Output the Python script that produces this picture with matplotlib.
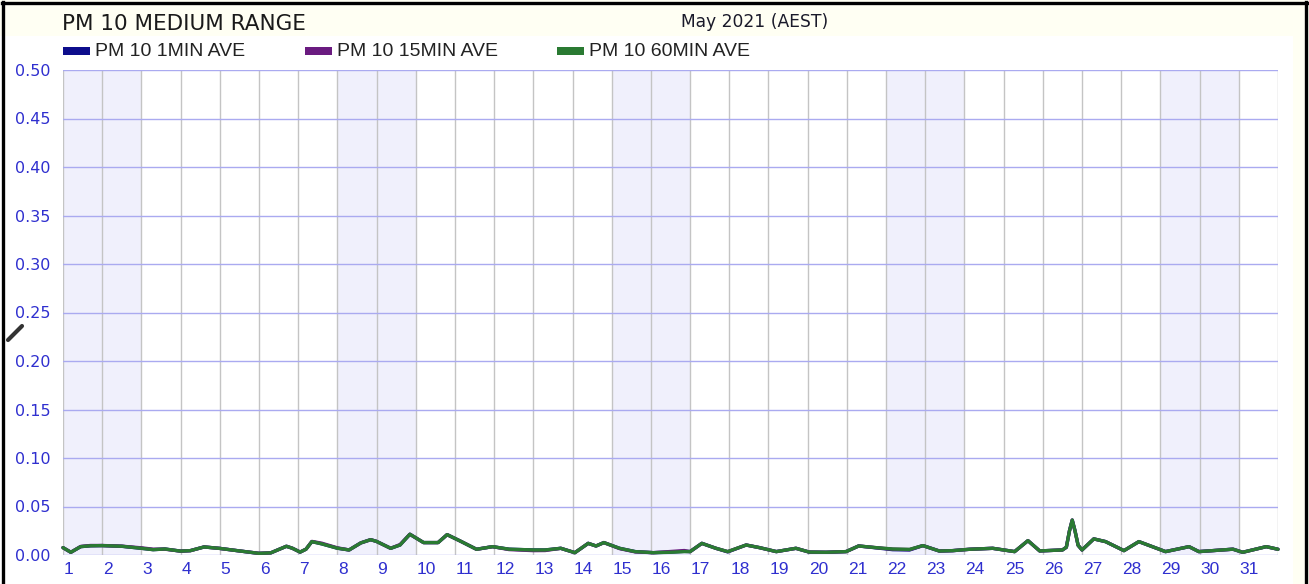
#!/usr/bin/env python3
"""PM 10 medium range - May 2021 monthly trend"""

import matplotlib
matplotlib.use("Agg")
import matplotlib.pyplot as plt
from matplotlib.patches import Rectangle
from matplotlib.lines import Line2D
import matplotlib.transforms as mtransforms

W, H = 1309, 584

# day position (1.0 = start of 1 May, 32.0 = end of 31 May)
days = [1.0, 1.2, 1.45, 1.7, 2.0, 2.5, 3.0, 3.3, 3.6, 4.0, 4.25, 4.6, 5.0, 5.5,
        6.0, 6.3, 6.7, 6.85, 7.05, 7.2, 7.35, 7.6, 8.0, 8.3, 8.6, 8.85, 9.0,
        9.36, 9.6, 9.85, 10.2, 10.57, 10.8, 11.13, 11.55, 11.96, 12.38, 13.0,
        13.3, 13.7, 14.06, 14.4, 14.6, 14.8, 15.2, 15.6, 16.06, 16.5, 16.85,
        17.0, 17.3, 17.66, 17.96, 18.43, 18.77, 19.2, 19.7, 20.04, 20.47,
        20.98, 21.3, 21.74, 22.17, 22.6, 22.94, 23.36, 23.7, 24.13, 24.72,
        25.28, 25.62, 25.92, 26.5, 26.6, 26.68, 26.75, 26.82, 26.9, 27.0,
        27.3, 27.6, 28.07, 28.45, 29.13, 29.73, 29.98, 30.68, 30.85, 31.1,
        31.7, 32.0]

pm10_60min = [0.0076, 0.0028, 0.0086, 0.0095, 0.0097, 0.0090, 0.0069, 0.0055,
              0.0062, 0.0040, 0.0045, 0.0083, 0.0068, 0.0042, 0.0017, 0.0022,
              0.0090, 0.0070, 0.0030, 0.0060, 0.0138, 0.0115, 0.0070, 0.0052,
              0.0125, 0.0158, 0.0140, 0.0069, 0.0103, 0.0214, 0.0128, 0.0128,
              0.0210, 0.0145, 0.0059, 0.0086, 0.0060, 0.0052, 0.0052, 0.0069,
              0.0024, 0.0120, 0.0093, 0.0128, 0.0069, 0.0035, 0.0024, 0.0028,
              0.0035, 0.0035, 0.0120, 0.0069, 0.0035, 0.0103, 0.0076, 0.0035,
              0.0069, 0.0030, 0.0028, 0.0035, 0.0093, 0.0076, 0.0062, 0.0058,
              0.0097, 0.0041, 0.0045, 0.0059, 0.0069, 0.0035, 0.0148, 0.0042,
              0.0052, 0.0080, 0.0250, 0.0360, 0.0250, 0.0100, 0.0052, 0.0166,
              0.0138, 0.0045, 0.0138, 0.0035, 0.0086, 0.0035, 0.0055, 0.0060,
              0.0028, 0.0086, 0.0059]

pm10_15min = [0.0076, 0.0028, 0.0088, 0.0098, 0.0098, 0.0091, 0.0074, 0.0060,
              0.0060, 0.0040, 0.0045, 0.0083, 0.0068, 0.0042, 0.0017, 0.0022,
              0.0090, 0.0070, 0.0030, 0.0060, 0.0140, 0.0122, 0.0074, 0.0052,
              0.0125, 0.0158, 0.0140, 0.0069, 0.0108, 0.0214, 0.0128, 0.0128,
              0.0210, 0.0145, 0.0059, 0.0086, 0.0056, 0.0045, 0.0046, 0.0069,
              0.0024, 0.0120, 0.0093, 0.0128, 0.0066, 0.0032, 0.0024, 0.0036,
              0.0046, 0.0035, 0.0120, 0.0069, 0.0035, 0.0103, 0.0076, 0.0035,
              0.0069, 0.0030, 0.0028, 0.0035, 0.0093, 0.0076, 0.0060, 0.0056,
              0.0097, 0.0041, 0.0045, 0.0059, 0.0069, 0.0035, 0.0148, 0.0042,
              0.0052, 0.0080, 0.0250, 0.0360, 0.0250, 0.0100, 0.0052, 0.0166,
              0.0138, 0.0045, 0.0138, 0.0035, 0.0086, 0.0035, 0.0055, 0.0060,
              0.0028, 0.0086, 0.0059]

pm10_1min = [0.0076, 0.0028, 0.0086, 0.0095, 0.0097, 0.0090, 0.0069, 0.0055,
             0.0062, 0.0040, 0.0045, 0.0083, 0.0068, 0.0042, 0.0017, 0.0022,
             0.0090, 0.0070, 0.0030, 0.0060, 0.0138, 0.0115, 0.0070, 0.0052,
             0.0125, 0.0158, 0.0140, 0.0069, 0.0103, 0.0214, 0.0128, 0.0128,
             0.0210, 0.0145, 0.0059, 0.0086, 0.0060, 0.0052, 0.0052, 0.0069,
             0.0024, 0.0120, 0.0093, 0.0128, 0.0069, 0.0035, 0.0024, 0.0030,
             0.0038, 0.0035, 0.0120, 0.0069, 0.0032, 0.0103, 0.0076, 0.0035,
             0.0069, 0.0030, 0.0028, 0.0035, 0.0093, 0.0074, 0.0055, 0.0052,
             0.0097, 0.0041, 0.0045, 0.0059, 0.0069, 0.0035, 0.0148, 0.0042,
             0.0052, 0.0080, 0.0250, 0.0360, 0.0250, 0.0100, 0.0052, 0.0166,
             0.0138, 0.0045, 0.0138, 0.0035, 0.0086, 0.0035, 0.0055, 0.0060,
             0.0028, 0.0086, 0.0059]

weekend_days = [1, 2, 8, 9, 15, 16, 22, 23, 29, 30]
day_labels = [str(d) for d in range(1, 32)]
y_ticks = [0.00, 0.05, 0.10, 0.15, 0.20, 0.25, 0.30, 0.35, 0.40, 0.45, 0.50]

series = [
    ('PM 10 1MIN AVE', pm10_1min, '#0d0d8c'),
    ('PM 10 15MIN AVE', pm10_15min, '#6a1b80'),
    ('PM 10 60MIN AVE', pm10_60min, '#2a7a32'),
]

TICK_BLUE = '#2f2fcf'


def fx(px):
    return px / W


def fy(py):
    return 1 - py / H


fig = plt.figure(figsize=(W / 100, H / 100), dpi=100)
fig.patch.set_facecolor('white')

# cream header band and right strip
fig.patches.append(Rectangle((0, fy(36)), 1, fy(0) - fy(36), transform=fig.transFigure,
                             facecolor='#fffff3', edgecolor='none', zorder=0))
fig.patches.append(Rectangle((fx(1293), 0), fx(W) - fx(1293), fy(36), transform=fig.transFigure,
                             facecolor='#fffff3', edgecolor='none', zorder=0))

# plot area
ax = fig.add_axes([fx(63), fy(555), fx(1278) - fx(63), fy(70) - fy(555)])
ax.set_xlim(1, 32)
ax.set_ylim(0, 0.5)
for s in ax.spines.values():
    s.set_visible(False)

for d in weekend_days:
    ax.axvspan(d, d + 1, facecolor='#f0f0fc', edgecolor='none', zorder=0)

for d in range(1, 33):
    ax.axvline(d, color='#c4c4c4', lw=1.0, zorder=1)
for v in y_ticks:
    ax.axhline(v, color='#aaaaf0', lw=1.0, zorder=1)

for name, vals, col in series:
    ax.plot(days, vals, color=col, lw=2.4, solid_joinstyle='round',
            solid_capstyle='round', zorder=3, clip_on=False)

ax.set_yticks(y_ticks)
ax.set_yticklabels([f'{v:.2f}' for v in y_ticks], family='DejaVu Sans',
                   fontsize=11.5, color=TICK_BLUE)
ax.set_xticks(range(1, 32))
ax.set_xticklabels(day_labels, family='Liberation Sans', fontsize=12.5,
                   color=TICK_BLUE, ha='left')
ax.tick_params(axis='both', length=0)
ax.tick_params(axis='y', pad=9)
ax.tick_params(axis='x', pad=5)
offset = mtransforms.ScaledTranslation(1.0 / 100, 0, fig.dpi_scale_trans)
for lab in ax.get_xticklabels():
    lab.set_transform(lab.get_transform() + offset)

# header texts
fig.text(fx(62), fy(24), 'PM 10 MEDIUM RANGE', family='DejaVu Sans', fontsize=15.5,
         color='#1a1a1a', ha='left', va='center')
fig.text(fx(755), fy(22), 'May 2021 (AEST)', family='DejaVu Sans', fontsize=12.3,
         color='#1a1a2a', ha='center', va='center')

# legend
legend_x = [63, 305, 557]
for (name, vals, col), lx in zip(series, legend_x):
    fig.patches.append(Rectangle((fx(lx), fy(55)), fx(27), fy(47) - fy(55),
                                 transform=fig.transFigure, facecolor=col,
                                 edgecolor='none'))
    fig.text(fx(lx + 32), fy(51), name, family='Liberation Sans', fontsize=14,
             color='#222222', ha='left', va='center')

# outer frame
frame_kw = dict(transform=fig.transFigure, color='black', lw=2.4)
fig.lines.append(Line2D([fx(3), fx(3)], [0, fy(2)], **frame_kw))
fig.lines.append(Line2D([fx(2), fx(1307)], [fy(3), fy(3)], **frame_kw))
fig.lines.append(Line2D([fx(1306), fx(1306)], [0, fy(2)], **frame_kw))

# small pen mark on the left edge
fig.lines.append(Line2D([fx(8), fx(22)], [fy(340), fy(326)], transform=fig.transFigure,
                        color='#333333', lw=3.0, solid_capstyle='round'))

fig.savefig('out.png', dpi=100)
